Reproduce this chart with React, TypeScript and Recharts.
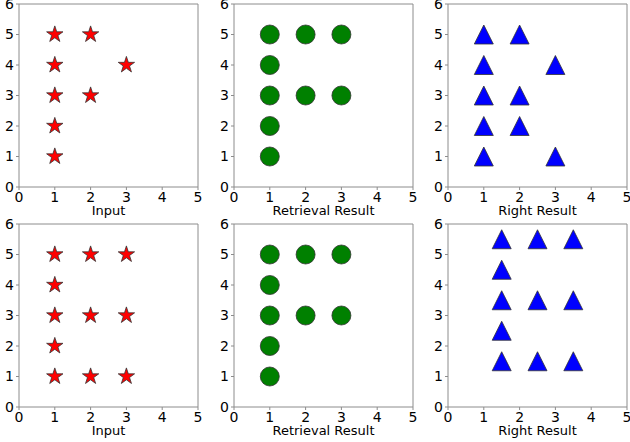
import React from "react";
import { ReferenceLine, Scatter, ScatterChart, XAxis, YAxis } from "recharts";

// point coordinates
const inputTopX = [1, 2, 1, 3, 1, 2, 1, 1];
const inputTopY = [5, 5, 4, 4, 3, 3, 2, 1];
const retrievalTopX = [1, 2, 3, 1, 1, 2, 3, 1, 1];
const retrievalTopY = [5, 5, 5, 4, 3, 3, 3, 2, 1];
const rightTopX = [1, 2, 1, 3, 1, 2, 1, 2, 1, 3];
const rightTopY = [5, 5, 4, 4, 3, 3, 2, 2, 1, 1];
const inputBottomX = [1, 2, 3, 1, 1, 2, 3, 1, 1, 2, 3];
const inputBottomY = [5, 5, 5, 4, 3, 3, 3, 2, 1, 1, 1];
const retrievalBottomX = [1, 2, 3, 1, 1, 2, 3, 1, 1];
const retrievalBottomY = [5, 5, 5, 4, 3, 3, 3, 2, 1];
const rightBottomX = [1.5, 2.5, 3.5, 1.5, 1.5, 2.5, 3.5, 1.5, 1.5, 2.5, 3.5];
const rightBottomY = [5.5, 5.5, 5.5, 4.5, 3.5, 3.5, 3.5, 2.5, 1.5, 1.5, 1.5];

const xTicks = [0, 1, 2, 3, 4, 5];
const yTicks = [0, 1, 2, 3, 4, 5, 6];
const titles = ["Input", "Retrieval Result", "Right Result"];

const font = "'DejaVu Sans', sans-serif";
const spine = "#8c8c8c";
const edge = "#333";

const toPoints = (xs: number[], ys: number[]) => xs.map((x, i) => ({ x, y: ys[i] }));

function Star(props: any) {
  const { cx, cy, fill } = props;
  const R = 8.6;
  const r = R * 0.382;
  const pts: string[] = [];
  for (let i = 0; i < 10; i++) {
    const rad = i % 2 === 0 ? R : r;
    const a = -Math.PI / 2 + (i * Math.PI) / 5;
    pts.push(`${cx + rad * Math.cos(a)},${cy + rad * Math.sin(a)}`);
  }
  return <polygon points={pts.join(" ")} fill={fill} stroke={edge} strokeWidth={0.8} />;
}

function Dot(props: any) {
  const { cx, cy, fill } = props;
  return <circle cx={cx} cy={cy} r={9.5} fill={fill} stroke={edge} strokeWidth={0.8} />;
}

function Tri(props: any) {
  const { cx, cy, fill } = props;
  const s = 9.5;
  const pts = `${cx},${cy - s} ${cx - s},${cy + s} ${cx + s},${cy + s}`;
  return <polygon points={pts} fill={fill} stroke={edge} strokeWidth={0.8} />;
}

const PLOT_W = 179;
const PLOT_H = 183;
const Y_W = 19;
const TOP = 14;
const X_H = 28;

function Panel({ data, title, shape, fill, left, top }: any) {
  return (
    <div style={{ position: "absolute", left: left - Y_W, top: top - TOP }}>
      <ScatterChart
        width={Y_W + PLOT_W + 8}
        height={TOP + PLOT_H + X_H + 4}
        margin={{ top: TOP, right: 8, bottom: 4, left: 0 }}
      >
        <XAxis
          type="number"
          dataKey="x"
          domain={[0, 5]}
          ticks={xTicks}
          interval={0}
          height={X_H}
          tickSize={3}
          tickMargin={2}
          stroke={spine}
          tick={{ fill: "#000", fontSize: 14, fontFamily: font }}
          label={{ value: title, position: "insideBottom", offset: 0, fill: "#000", fontSize: 13, fontFamily: font }}
        />
        <YAxis
          type="number"
          dataKey="y"
          domain={[0, 6]}
          ticks={yTicks}
          interval={0}
          width={Y_W}
          tickSize={3}
          tickMargin={2}
          stroke={spine}
          tick={{ fill: "#000", fontSize: 14, fontFamily: font }}
        />
        <ReferenceLine y={6} stroke={spine} />
        <ReferenceLine x={5} stroke={spine} />
        <Scatter data={data} fill={fill} shape={shape} isAnimationActive={false} />
      </ScatterChart>
    </div>
  );
}

export default function App() {
  const cols = [19, 234, 448];
  const rows = [4, 224];
  const panels = [
    { data: toPoints(inputTopX, inputTopY), shape: Star, fill: "#ff0000" },
    { data: toPoints(retrievalTopX, retrievalTopY), shape: Dot, fill: "#008000" },
    { data: toPoints(rightTopX, rightTopY), shape: Tri, fill: "#0000ff" },
    { data: toPoints(inputBottomX, inputBottomY), shape: Star, fill: "#ff0000" },
    { data: toPoints(retrievalBottomX, retrievalBottomY), shape: Dot, fill: "#008000" },
    { data: toPoints(rightBottomX, rightBottomY), shape: Tri, fill: "#0000ff" },
  ];
  return (
    <div
      style={{
        position: "absolute",
        left: 0,
        top: 0,
        width: 630,
        height: 442,
        overflow: "hidden",
        background: "#fff",
      }}
    >
      {panels.map((p, i) => (
        <Panel
          key={i}
          data={p.data}
          shape={p.shape}
          fill={p.fill}
          title={titles[i % 3]}
          left={cols[i % 3]}
          top={rows[Math.floor(i / 3)]}
        />
      ))}
    </div>
  );
}
